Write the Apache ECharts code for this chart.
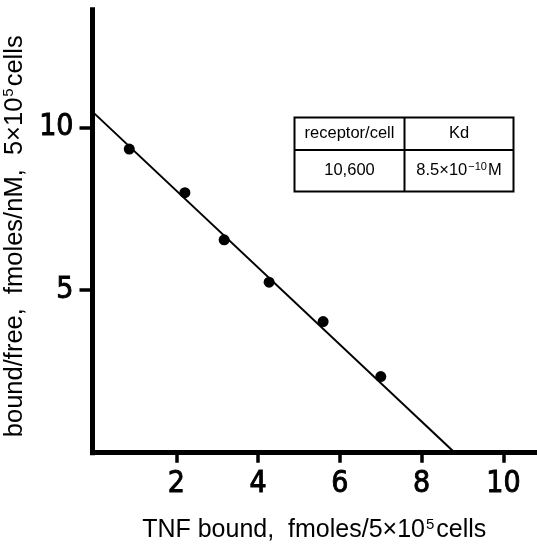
<!DOCTYPE html>
<html>
<head>
<meta charset="utf-8">
<script src="https://cdn.jsdelivr.net/npm/echarts@6/dist/echarts.min.js"></script>
<style>
  html, body { margin: 0; padding: 0; background: #fff; }
  #chart { width: 537px; height: 545px; }
</style>
</head>
<body>
<div id="chart"></div>
<script>
// Scatchard plot of TNF binding
const xTickValues = [2, 4, 6, 8, 10];
const yTickValues = [5, 10];
const boundX = [0.85, 2.21, 3.17, 4.27, 5.59, 7.00];      // TNF bound, fmoles/5x10^5 cells
const boundFreeY = [9.33, 7.99, 6.54, 5.24, 4.03, 2.34];  // bound/free, fmoles/nM
const fitX = [0, 8.81];
const fitY = [10.42, 0];
const tableHeader = ['receptor/cell', 'Kd'];
const tableValues = ['10,600', '8.5×10{sup|−10}M'];

const xTitle = 'TNF bound,  fmoles/5×10{sup|5}cells';
const yTitle = 'bound/free,  fmoles/nM,  5×10{sup|5}cells';

const titleFont = "'Liberation Sans', Arial, sans-serif";
const tickFont = "'Liberation Sans Narrow', 'DejaVu Sans Condensed', sans-serif";

const chart = echarts.init(document.getElementById('chart'));

// summary table in the upper right corner
const tbl = { left: 294.5, right: 513.5, top: 117.5, mid: 150, bottom: 191.5, split: 404.5 };
const lineStyle = { stroke: '#000', lineWidth: 2 };
const supRich = { sup: { fontSize: 11, fontFamily: titleFont, verticalAlign: 'top', padding: [0, 1, 7, 1] } };
const cellText = (txt, x, y) => ({
  type: 'text', x: x, y: y,
  style: {
    text: txt, fill: '#000', font: '16.5px ' + titleFont,
    align: 'center', verticalAlign: 'middle', rich: supRich
  }
});
const tableGraphic = [
  { type: 'rect', shape: { x: tbl.left, y: tbl.top, width: tbl.right - tbl.left, height: tbl.bottom - tbl.top }, style: { fill: 'none', stroke: '#000', lineWidth: 2 } },
  { type: 'line', shape: { x1: tbl.left, y1: tbl.mid, x2: tbl.right, y2: tbl.mid }, style: lineStyle },
  { type: 'line', shape: { x1: tbl.split, y1: tbl.top, x2: tbl.split, y2: tbl.bottom }, style: lineStyle },
  cellText(tableHeader[0], (tbl.left + tbl.split) / 2, (tbl.top + tbl.mid) / 2),
  cellText(tableHeader[1], (tbl.split + tbl.right) / 2, (tbl.top + tbl.mid) / 2),
  cellText(tableValues[0], (tbl.left + tbl.split) / 2, (tbl.mid + tbl.bottom) / 2),
  cellText(tableValues[1], (tbl.split + tbl.right) / 2, (tbl.mid + tbl.bottom) / 2)
];

const axisLineStyle = { color: '#000', width: 5, cap: 'square' };
const tickLabelStyle = {
  color: '#000', fontFamily: tickFont, fontSize: 30,
  textBorderColor: '#000', textBorderWidth: 0.9
};
const titleStyle = (size, pad) => ({
  color: '#000', fontFamily: titleFont, fontSize: size, padding: pad,
  rich: { sup: { fontSize: 15, fontFamily: titleFont, verticalAlign: 'top', padding: [0, 2, 9, 1] } }
});

chart.setOption({
  animation: false,
  backgroundColor: '#fff',
  grid: { left: 94.5, right: 0, top: 9.8, bottom: 92.3, outerBoundsMode: 'none', containLabel: false },
  xAxis: {
    type: 'value', min: 0, max: 10.82, interval: 2,
    axisLine: { show: true, onZero: false, lineStyle: axisLineStyle },
    axisTick: { show: true, length: 10, customValues: xTickValues, lineStyle: { color: '#000', width: 3.5 } },
    axisLabel: Object.assign({ customValues: xTickValues, margin: 17 }, tickLabelStyle),
    splitLine: { show: false },
    name: xTitle, nameLocation: 'middle', nameGap: 65,
    nameTextStyle: titleStyle(25, [0, 3, 0, 0])
  },
  yAxis: {
    type: 'value', min: 0, max: 13.61, interval: 5, offset: 2,
    axisLine: { show: true, onZero: false, lineStyle: axisLineStyle },
    axisTick: { show: true, length: 13, customValues: yTickValues, lineStyle: { color: '#000', width: 3.5 } },
    axisLabel: Object.assign({ customValues: yTickValues, margin: 19 }, tickLabelStyle),
    splitLine: { show: false },
    name: yTitle, nameLocation: 'middle', nameRotate: 90, nameGap: 47,
    nameTextStyle: titleStyle(25.5, [0, 10, 0, 0])
  },
  graphic: tableGraphic,
  series: [
    {
      type: 'line', data: fitX.map((x, i) => [x, fitY[i]]),
      showSymbol: false, symbol: 'none',
      lineStyle: { color: '#000', width: 2 }, z: 2
    },
    {
      type: 'scatter', data: boundX.map((x, i) => [x, boundFreeY[i]]),
      symbol: 'circle', symbolSize: 11,
      itemStyle: { color: '#000', opacity: 1 }, z: 3
    }
  ]
});
</script>
</body>
</html>
